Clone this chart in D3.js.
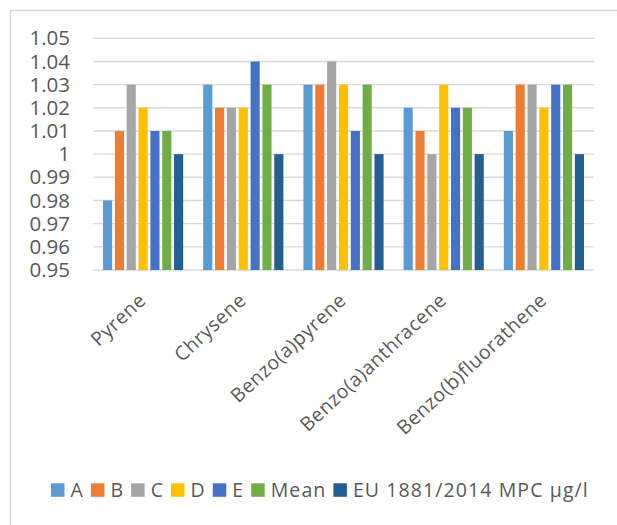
<!DOCTYPE html>
<html>
<head>
<meta charset="utf-8">
<script src="https://cdn.jsdelivr.net/npm/d3@7"></script>
<style>
  html, body { margin: 0; padding: 0; background: #fff; }
  svg { display: block; font-family: "Open Sans", "Noto Sans", sans-serif; }
</style>
</head>
<body>
<svg id="chart" width="617" height="525"></svg>
<script>
// PAH measurements per compound, one array per series
const categories = ["Pyrene", "Chrysene", "Benzo(a)pyrene", "Benzo(a)anthracene", "Benzo(b)fluorathene"];
const seriesNames = ["A", "B", "C", "D", "E", "Mean", "EU 1881/2014 MPC µg/l"];
const seriesA    = [0.98, 1.03, 1.03, 1.02, 1.01];
const seriesB    = [1.01, 1.02, 1.03, 1.01, 1.03];
const seriesC    = [1.03, 1.02, 1.04, 1.00, 1.03];
const seriesD    = [1.02, 1.02, 1.03, 1.03, 1.02];
const seriesE    = [1.01, 1.04, 1.01, 1.02, 1.03];
const seriesMean = [1.01, 1.03, 1.03, 1.02, 1.03];
const seriesEU   = [1.00, 1.00, 1.00, 1.00, 1.00];
const yTickValues = [0.95, 0.96, 0.97, 0.98, 0.99, 1.00, 1.01, 1.02, 1.03, 1.04, 1.05];
const yTickLabels = ["0.95", "0.96", "0.97", "0.98", "0.99", "1", "1.01", "1.02", "1.03", "1.04", "1.05"];

const seriesValues = [seriesA, seriesB, seriesC, seriesD, seriesE, seriesMean, seriesEU];
const colors = ["#5B9BD5", "#ED7D31", "#A5A5A5", "#FFC000", "#4472C4", "#70AD47", "#255E91"];

const svg = d3.select("#chart");

// chart frame
svg.append("path")
  .attr("d", "M10.5,525 V10.5 H617")
  .attr("fill", "none")
  .attr("stroke", "#d9d9d9")
  .attr("stroke-width", 1.5);

const plot = { left: 93, right: 594, top: 38.3, bottom: 270 };

const y = d3.scaleLinear().domain([0.95, 1.05]).range([plot.bottom, plot.top]);
const x0 = d3.scaleBand().domain(categories).range([plot.left, plot.right])
  .paddingInner(0.2).paddingOuter(0.1);
const x1 = d3.scaleBand().domain(seriesNames).range([0, x0.bandwidth()])
  .paddingInner(0.23).paddingOuter(0);
const color = d3.scaleOrdinal().domain(seriesNames).range(colors);

// horizontal gridlines
svg.append("g")
  .selectAll("line")
  .data(yTickValues)
  .join("line")
  .attr("x1", plot.left)
  .attr("x2", plot.right)
  .attr("y1", d => y(d))
  .attr("y2", d => y(d))
  .attr("stroke", "#d9d9d9")
  .attr("stroke-width", 1.4);

// y axis labels
const yAxis = d3.axisLeft(y)
  .tickValues(yTickValues)
  .tickFormat((d, i) => yTickLabels[i])
  .tickSize(0)
  .tickPadding(0);
const yAxisG = svg.append("g")
  .attr("transform", `translate(70,0)`)
  .call(yAxis);
yAxisG.select(".domain").remove();
yAxisG.selectAll("text")
  .attr("fill", "#595959")
  .attr("font-size", "20.5px")
  .attr("font-family", "\"Open Sans\", sans-serif");

// bars
const rows = categories.map((c, ci) => ({
  category: c,
  values: seriesNames.map((s, si) => ({ series: s, value: seriesValues[si][ci] }))
}));

svg.append("g")
  .selectAll("g")
  .data(rows)
  .join("g")
  .attr("transform", d => `translate(${x0(d.category)},0)`)
  .selectAll("rect")
  .data(d => d.values)
  .join("rect")
  .attr("x", d => x1(d.series))
  .attr("width", x1.bandwidth())
  .attr("y", d => y(d.value))
  .attr("height", d => y(0.95) - y(d.value))
  .attr("fill", d => color(d.series));

// rotated category labels, anchored at each group's centre
svg.append("g")
  .selectAll("text")
  .data(categories)
  .join("text")
  .attr("transform", d => `translate(${x0(d) + x0.bandwidth() / 2 + 4},302) rotate(-43)`)
  .attr("text-anchor", "end")
  .attr("fill", "#595959")
  .attr("font-size", "19.5px")
  .attr("letter-spacing", "0.5px")
  .text(d => d);

// legend
const legend = svg.append("g").attr("transform", "translate(51,490)");
let cursor = 0;
seriesNames.forEach((name, i) => {
  const item = legend.append("g").attr("transform", `translate(${cursor},0)`);
  item.append("rect")
    .attr("x", 0)
    .attr("y", -6.7)
    .attr("width", 13.5)
    .attr("height", 13.5)
    .attr("fill", color(name));
  const t = item.append("text")
    .attr("x", 19.5)
    .attr("y", 0)
    .attr("dy", "0.35em")
    .attr("fill", "#595959")
    .attr("font-size", "19.5px")
    .attr("letter-spacing", "1.1px")
    .text(name);
  cursor += 19.5 + t.node().getComputedTextLength() + 7;
});
</script>
</body>
</html>
